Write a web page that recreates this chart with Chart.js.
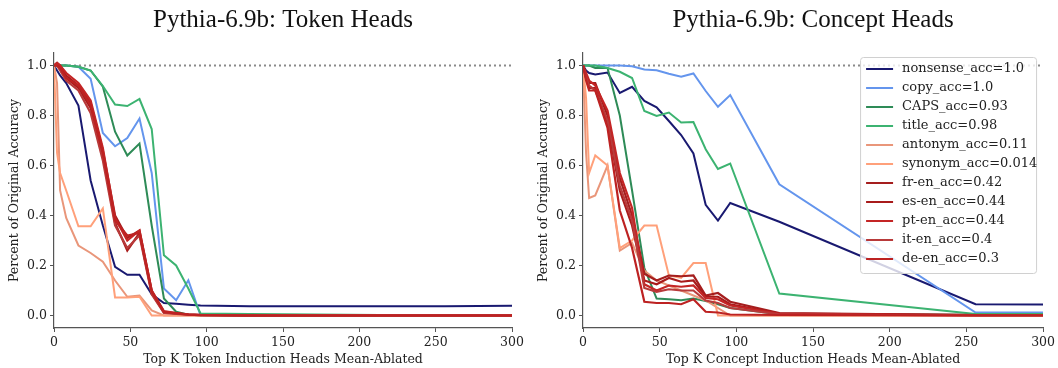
<!DOCTYPE html>
<html>
<head>
<meta charset="utf-8">
<script src="https://cdn.jsdelivr.net/npm/chart.js@4.4.1/dist/chart.umd.min.js"></script>
<style>
  html, body { margin: 0; padding: 0; background: #fff; }
  #wrap { position: relative; width: 1058px; height: 368px; }
  .panel { position: absolute; top: 0; width: 529px; height: 368px; }
</style>
</head>
<body>
<div id="wrap">
  <div class="panel" style="left:0"><canvas id="token-chart"></canvas></div>
  <div class="panel" style="left:529px"><canvas id="concept-chart"></canvas></div>
</div>
<script>
// ── Data ──
const kValues = [0, 2, 4, 8, 16, 24, 32, 40, 48, 56, 64, 72, 80, 88, 96, 128, 256, 300]
const xTicks  = [0, 50, 100, 150, 200, 250, 300]
const yTicks  = [0, 0.2, 0.4, 0.6, 0.8, 1.0]
const baseline = 1.0

const taskLabels = [
  'nonsense_acc=1.0', 'copy_acc=1.0', 'CAPS_acc=0.93', 'title_acc=0.98',
  'antonym_acc=0.11', 'synonym_acc=0.014', 'fr-en_acc=0.42', 'es-en_acc=0.44',
  'pt-en_acc=0.44', 'it-en_acc=0.4', 'de-en_acc=0.3'
]
const taskColors = [
  '#191970', '#6495ed', '#2e8b57', '#3cb371',
  '#e9967a', '#ffa07a', '#a51e1e', '#a81b1b',
  '#c42525', '#b83a3a', '#bd2222'
]

// token heads ablation
const tokenNonsense = [1.0, 0.98, 0.96, 0.93, 0.84, 0.54, 0.36, 0.195, 0.163, 0.163, 0.085, 0.05, 0.047, 0.043, 0.04, 0.037, 0.037, 0.039]
const tokenCopy     = [1.0, 1.0, 1.0, 1.0, 0.995, 0.947, 0.73, 0.677, 0.71, 0.788, 0.57, 0.108, 0.061, 0.141, 0.0, 0.0, 0.0, 0.0]
const tokenCaps     = [1.0, 1.0, 1.0, 1.0, 0.995, 0.98, 0.915, 0.735, 0.64, 0.688, 0.36, 0.068, 0.015, 0.003, 0.0, 0.0, 0.0, 0.0]
const tokenTitle    = [1.0, 1.0, 1.0, 1.0, 0.995, 0.98, 0.918, 0.844, 0.838, 0.866, 0.746, 0.241, 0.2, 0.108, 0.008, 0.006, 0.0, 0.0]
const tokenAntonym  = [1.0, 0.93, 0.5, 0.39, 0.28, 0.25, 0.215, 0.14, 0.075, 0.08, 0.02, 0.0, 0.0, 0.0, 0.0, 0.0, 0.0, 0.0]
const tokenSynonym  = [1.0, 0.65, 0.57, 0.5, 0.357, 0.357, 0.428, 0.072, 0.072, 0.075, 0.0, 0.0, 0.0, 0.0, 0.0, 0.0, 0.0, 0.0]
const tokenFrEn     = [1.0, 1.01, 1.0, 0.96, 0.92, 0.85, 0.66, 0.4, 0.31, 0.34, 0.1, 0.015, 0.01, 0.005, 0.003, 0.0, 0.0, 0.0]
const tokenEsEn     = [1.0, 1.0, 0.99, 0.95, 0.91, 0.83, 0.64, 0.37, 0.26, 0.33, 0.09, 0.012, 0.008, 0.004, 0.002, 0.0, 0.0, 0.0]
const tokenPtEn     = [1.0, 1.01, 1.0, 0.97, 0.93, 0.86, 0.67, 0.39, 0.3, 0.34, 0.1, 0.018, 0.01, 0.004, 0.002, 0.0, 0.0, 0.0]
const tokenItEn     = [1.0, 1.0, 0.98, 0.94, 0.9, 0.81, 0.62, 0.36, 0.27, 0.32, 0.085, 0.01, 0.006, 0.003, 0.001, 0.0, 0.0, 0.0]
const tokenDeEn     = [1.0, 1.0, 0.99, 0.95, 0.92, 0.84, 0.65, 0.38, 0.32, 0.33, 0.095, 0.014, 0.008, 0.003, 0.001, 0.0, 0.0, 0.0]

// concept heads ablation
const conceptNonsense = [1.0, 0.98, 0.97, 0.964, 0.972, 0.89, 0.915, 0.858, 0.833, 0.778, 0.722, 0.648, 0.443, 0.38, 0.45, 0.375, 0.045, 0.044]
const conceptCopy     = [1.0, 1.0, 1.0, 1.0, 1.0, 1.0, 0.997, 0.984, 0.981, 0.967, 0.955, 0.968, 0.898, 0.835, 0.882, 0.525, 0.012, 0.012]
const conceptCaps     = [1.0, 1.0, 1.0, 0.99, 0.99, 0.8, 0.5, 0.19, 0.068, 0.065, 0.061, 0.068, 0.058, 0.045, 0.03, 0.005, 0.003, 0.003]
const conceptTitle    = [1.0, 1.0, 1.0, 1.0, 0.99, 0.975, 0.95, 0.818, 0.798, 0.812, 0.772, 0.774, 0.665, 0.586, 0.608, 0.088, 0.006, 0.006]
const conceptAntonym  = [1.0, 0.65, 0.47, 0.48, 0.6, 0.26, 0.29, 0.18, 0.14, 0.12, 0.1, 0.08, 0.06, 0.03, 0.0, 0.0, 0.0, 0.0]
const conceptSynonym  = [1.0, 0.87, 0.57, 0.64, 0.6, 0.27, 0.3, 0.36, 0.36, 0.16, 0.15, 0.21, 0.21, 0.0, 0.0, 0.0, 0.0, 0.0]
const conceptFrEn     = [1.0, 0.96, 0.93, 0.93, 0.8, 0.55, 0.4, 0.167, 0.14, 0.16, 0.157, 0.16, 0.08, 0.09, 0.055, 0.01, 0.002, 0.002]
const conceptEsEn     = [1.0, 0.95, 0.91, 0.91, 0.77, 0.5, 0.36, 0.14, 0.125, 0.15, 0.135, 0.14, 0.075, 0.075, 0.045, 0.008, 0.002, 0.002]
const conceptPtEn     = [1.0, 0.97, 0.94, 0.92, 0.82, 0.57, 0.43, 0.125, 0.1, 0.12, 0.115, 0.12, 0.07, 0.065, 0.04, 0.007, 0.001, 0.001]
const conceptItEn     = [1.0, 0.95, 0.92, 0.9, 0.78, 0.52, 0.38, 0.11, 0.095, 0.105, 0.1, 0.1, 0.06, 0.05, 0.03, 0.005, 0.0, 0.0]
const conceptDeEn     = [1.0, 0.94, 0.9, 0.9, 0.75, 0.42, 0.27, 0.055, 0.05, 0.05, 0.045, 0.065, 0.015, 0.012, 0.004, 0.002, 0.0, 0.0]

const tokenSeries = [tokenNonsense, tokenCopy, tokenCaps, tokenTitle, tokenAntonym, tokenSynonym,
  tokenFrEn, tokenEsEn, tokenPtEn, tokenItEn, tokenDeEn]
const conceptSeries = [conceptNonsense, conceptCopy, conceptCaps, conceptTitle, conceptAntonym, conceptSynonym,
  conceptFrEn, conceptEsEn, conceptPtEn, conceptItEn, conceptDeEn]

// ── Style ──
const SERIF = "'DejaVu Serif', serif"
const TITLE_FONT = "'Liberation Serif', 'Times New Roman', serif"
const AXIS = '#555'

Chart.defaults.font.family = SERIF
Chart.defaults.color = '#222'

// legend drawn inside the plot, matplotlib style
const legendBox = {
  id: 'legendBox',
  afterDatasetsDraw(chart, args, opts) {
    if (!opts.show) return
    const { ctx, chartArea } = chart
    const w = 176, h = 216, rowH = 19
    const left = chartArea.right - 7 - w
    const top  = chartArea.top + 4
    ctx.save()
    ctx.fillStyle = 'rgba(255,255,255,0.8)'
    ctx.strokeStyle = '#d0d0d0'
    ctx.lineWidth = 1
    ctx.beginPath()
    ctx.roundRect(left + 0.5, top + 0.5, w, h, 3)
    ctx.fill()
    ctx.stroke()
    ctx.font = '13px ' + SERIF
    ctx.textBaseline = 'middle'
    ctx.fillStyle = '#222'
    taskLabels.forEach((label, i) => {
      const y = top + 12 + i * rowH
      ctx.strokeStyle = taskColors[i]
      ctx.lineWidth = 2
      ctx.beginPath()
      ctx.moveTo(left + 6, y)
      ctx.lineTo(left + 33, y)
      ctx.stroke()
      ctx.fillText(label, left + 42, y)
    })
    ctx.restore()
  }
}

function buildChart(canvasId, title, xLabel, series, padRight, showLegend) {
  const datasets = series.map((vals, i) => ({
    label: taskLabels[i],
    data: vals.map((v, j) => ({ x: kValues[j], y: v })),
    borderColor: taskColors[i],
    borderWidth: i >= 6 ? 2.2 : 2,
    pointRadius: 0,
    tension: 0,
    fill: false,
    order: series.length - i,
  }))
  datasets.push({
    label: 'baseline',
    data: [{ x: 0, y: baseline }, { x: 300, y: baseline }],
    borderColor: '#8a8a8a',
    borderWidth: 2,
    borderDash: [2, 3],
    pointRadius: 0,
    order: 100,
  })

  return new Chart(document.getElementById(canvasId), {
    type: 'line',
    data: { datasets },
    options: {
      responsive: true,
      maintainAspectRatio: false,
      animation: false,
      layout: { padding: { left: 0, right: padRight, top: 0, bottom: 0 } },
      plugins: {
        legend: { display: false },
        tooltip: { enabled: false },
        title: {
          display: true,
          fullSize: false,
          text: title,
          color: '#111',
          font: { family: TITLE_FONT, size: 25, weight: 'normal' },
          padding: { top: 5, bottom: 18 },
        },
        legendBox: { show: showLegend },
      },
      scales: {
        x: {
          type: 'linear',
          min: 0,
          max: 300,
          afterBuildTicks: s => { s.ticks = xTicks.map(v => ({ value: v })) },
          afterFit: s => { s.height = 40 },
          ticks: { font: { size: 12.5 }, color: '#222', padding: 3, maxRotation: 0,
                   callback: v => String(v) },
          grid: { drawOnChartArea: false, drawTicks: true, tickLength: 4, color: AXIS, lineWidth: 1 },
          border: { display: true, color: AXIS, width: 1.2 },
          title: { display: true, text: xLabel, font: { size: 12.5 }, color: '#222',
                   padding: { top: 0, bottom: 1 } },
        },
        y: {
          min: -0.05,
          max: 1.05,
          afterBuildTicks: s => { s.ticks = yTicks.map(v => ({ value: v })) },
          afterFit: s => { s.width = 54 },
          ticks: { font: { size: 12.5 }, color: '#222', padding: 3,
                   callback: v => Number(v).toFixed(1) },
          grid: { drawOnChartArea: false, drawTicks: true, tickLength: 4, color: AXIS, lineWidth: 1 },
          border: { display: true, color: AXIS, width: 1.2 },
          title: { display: true, text: 'Percent of Original Accuracy', font: { size: 12.5 }, color: '#222',
                   padding: { top: 7, bottom: 0 } },
        }
      }
    },
    plugins: [legendBox]
  })
}

buildChart('token-chart', 'Pythia-6.9b: Token Heads', 'Top K Token Induction Heads Mean-Ablated',
  tokenSeries, 17, false)
buildChart('concept-chart', 'Pythia-6.9b: Concept Heads', 'Top K Concept Induction Heads Mean-Ablated',
  conceptSeries, 12, true)
</script>
</body>
</html>
